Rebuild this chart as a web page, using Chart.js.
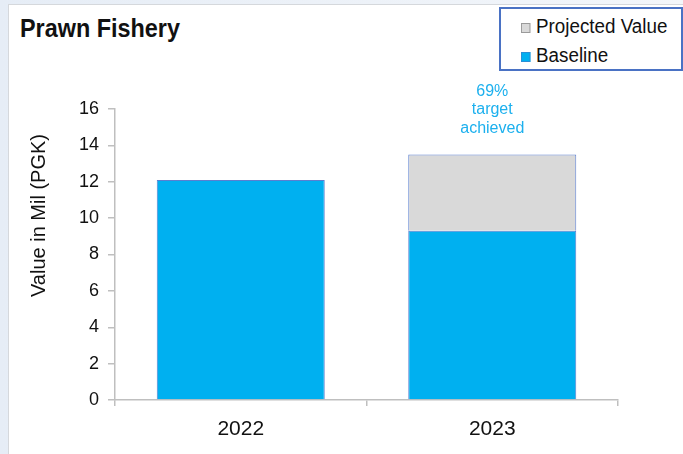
<!DOCTYPE html>
<html>
<head>
<meta charset="utf-8">
<script src="https://cdn.jsdelivr.net/npm/chart.js@4.4.1/dist/chart.umd.min.js"></script>
<style>
  html, body { margin: 0; padding: 0; }
  body {
    width: 683px; height: 454px; overflow: hidden;
    background: linear-gradient(90deg, #e6edf6, #f3f6fa);
    font-family: "Liberation Sans", Arial, sans-serif;
  }
  #panel {
    position: absolute; left: 8px; top: 4px; right: 0; bottom: 0;
    background: #fff;
    border-left: 1px solid #d5d8dc;
    border-top: 1px solid #d5d8dc;
  }
  #title {
    position: absolute; left: 11px; top: 8px;
    font-weight: bold; font-size: 26px; color: #111;
    transform: scaleX(0.9); transform-origin: left top;
  }
  #legend {
    position: absolute; left: 490px; top: 2px; width: 184px; height: 64px;
    border: 2px solid #4a72c4; background: #fff; box-sizing: border-box;
    padding: 3px 0 0 20px;
  }
  #legend div {
    font-size: 20px; color: #111; line-height: 29px; white-space: nowrap;
    transform: scaleX(0.94); transform-origin: left center;
  }
  #legend span.sw {
    display: inline-block; width: 8px; height: 8px; margin-right: 6px;
    border: 1px solid #999; vertical-align: 0px;
  }
  canvas { position: absolute; left: 0; top: 0; }
</style>
</head>
<body>
<div id="panel">
  <div id="title">Prawn Fishery</div>
  <canvas id="chart" width="674" height="449"></canvas>
  <div id="legend"></div>
</div>
<script>
const years = ["2022", "2023"];
const baseline = [12.1, 9.3];
// part of the projected value sitting on top of the baseline
const projected = [null, 4.2];

const blue = "#00b0f0";
const grey = "#d9d9d9";
const edge = "#5b7fd0";
const axisGrey = "#bfbfbf";

// "69% target achieved" above the stacked bar
const targetLabel = {
  id: "targetLabel",
  afterDatasetsDraw(chart) {
    const meta = chart.getDatasetMeta(1);
    const ctx = chart.ctx;
    ctx.save();
    ctx.fillStyle = "#1cb0ee";
    ctx.font = "16px 'Liberation Sans', Arial, sans-serif";
    ctx.textAlign = "center";
    ctx.textBaseline = "middle";
    meta.data.forEach((bar, i) => {
      if (projected[i] == null) return;
      const pct = Math.round(baseline[i] / (baseline[i] + projected[i]) * 100);
      const lines = [pct + "%", "target", "achieved"];
      lines.forEach((t, j) => {
        ctx.fillText(t, bar.x, bar.y - 63 + j * 18.5);
      });
    });
    ctx.restore();
  }
};

// y axis title, sits a little above the middle of the axis
const yTitle = {
  id: "yTitle",
  afterDraw(chart) {
    const ctx = chart.ctx;
    const a = chart.chartArea;
    ctx.save();
    ctx.translate(a.left - 76, (a.top + a.bottom) / 2 - 39);
    ctx.rotate(-Math.PI / 2);
    ctx.fillStyle = "#111";
    ctx.font = "20px 'Liberation Sans', Arial, sans-serif";
    ctx.textAlign = "center";
    ctx.textBaseline = "middle";
    ctx.fillText("Value in Mil (PGK)", 0, 0);
    ctx.restore();
  }
};

const chart = new Chart(document.getElementById("chart"), {
  type: "bar",
  data: {
    labels: years,
    datasets: [
      {
        label: "Baseline",
        data: baseline,
        backgroundColor: blue,
        borderColor: edge,
        borderWidth: 1,
        swatchBorder: "#2a8fd6",
      },
      {
        label: "Projected Value",
        data: projected,
        backgroundColor: grey,
        borderColor: edge,
        borderWidth: 1,
        swatchBorder: "#9a9a9a",
      },
    ],
  },
  options: {
    responsive: false,
    devicePixelRatio: 1,
    animation: false,
    layout: { padding: { top: 104, right: 65, bottom: 0, left: 0 } },
    datasets: { bar: { categoryPercentage: 1, barPercentage: 0.668 } },
    plugins: {
      legend: { display: false },
      tooltip: { enabled: false },
    },
    scales: {
      x: {
        stacked: true,
        grid: { drawOnChartArea: false, offset: true, tickLength: 6, color: axisGrey, lineWidth: 1.5 },
        border: { color: axisGrey, width: 1.5 },
        ticks: { color: "#111", font: { size: 21, family: "'Liberation Sans', Arial" }, padding: 11 },
        afterFit(scale) { scale.height = 54; },
      },
      y: {
        stacked: true,
        min: 0,
        max: 16,
        grid: { drawOnChartArea: false, tickLength: 7, color: axisGrey, lineWidth: 1.5 },
        border: { color: axisGrey, width: 1.5 },
        ticks: { stepSize: 2, color: "#111", font: { size: 18, family: "'Liberation Sans', Arial" }, padding: 9 },
        afterFit(scale) { scale.width = 106; },
      },
    },
  },
  plugins: [targetLabel, yTitle],
});

// legend box, projected first like the stacking order top-down
const legend = document.getElementById("legend");
chart.data.datasets.slice().reverse().forEach((ds) => {
  const row = document.createElement("div");
  const sw = document.createElement("span");
  sw.className = "sw";
  sw.style.background = ds.backgroundColor;
  sw.style.borderColor = ds.swatchBorder;
  row.appendChild(sw);
  row.appendChild(document.createTextNode(ds.label));
  legend.appendChild(row);
});
</script>
</body>
</html>
